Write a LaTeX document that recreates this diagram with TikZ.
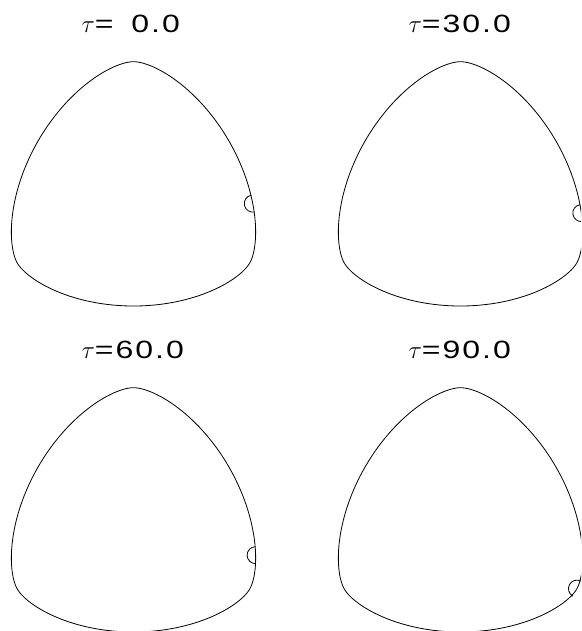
\documentclass[tikz,border=0pt]{standalone}
\usepackage{fontspec}
\newfontfamily\labfont[FakeStretch=1.28,LetterSpace=8]{Liberation Sans}
\tikzset{
  outline/.style={line width=0.8pt, black},
  title/.style={anchor=base west, inner sep=0pt, outer sep=0pt},
}
% support function p = a - b sin(3t), constant width curve
\def\ca{122.15}
\def\cb{12.04}
\begin{document}
\begin{tikzpicture}[x=1pt,y=-1pt]
\useasboundingbox (0,0) rectangle (581,631);
\clip (0,0) rectangle (581,631);
\foreach \dx/\dy/\tn/\lab [count=\i] in {0/0/11/\phantom{0}0.0, 327/0/7.7/30.0, 0/326/1.3/60.0, 327/326/-29/90.0}{
\begin{scope}[shift={(\dx,\dy)}]
\node[title] (t\i) at (81.5,32.5) {{\fontsize{30}{30}\selectfont$\tau$}\labfont\fontsize{25}{30}\selectfont=\lab};
\end{scope}
\begin{scope}[shift={(\dx+133.5,\dy+195.9)}, yscale=-1]
\draw[outline] plot[smooth cycle, domain=0:358, samples=180, variable=\t]
  ({(\ca-\cb*sin(3*\t))*cos(\t)+3*\cb*cos(3*\t)*sin(\t)},
   {(\ca-\cb*sin(3*\t))*sin(\t)-3*\cb*cos(3*\t)*cos(\t)});
\coordinate (n\i) at ({(\ca-\cb*sin(3*\tn))*cos(\tn)+3*\cb*cos(3*\tn)*sin(\tn)},
   {(\ca-\cb*sin(3*\tn))*sin(\tn)-3*\cb*cos(3*\tn)*cos(\tn)});
\draw[outline] (n\i) ++({\tn+90}:8.5) arc[start angle={\tn+90}, end angle={\tn+270}, radius=8.5];
\end{scope}
}
\end{tikzpicture}
\end{document}
